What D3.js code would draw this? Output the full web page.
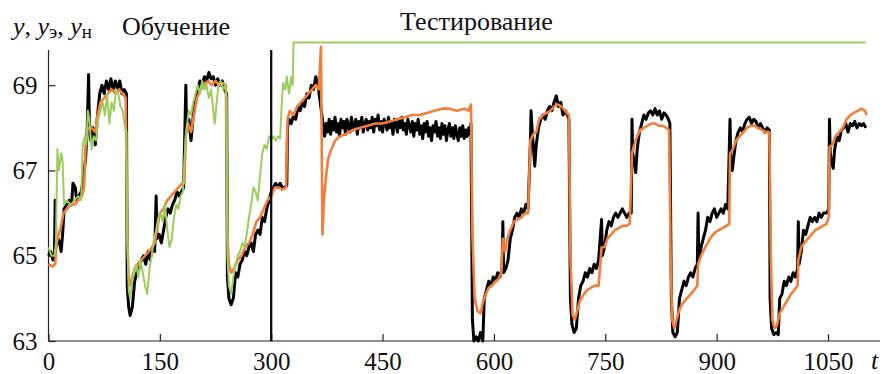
<!DOCTYPE html>
<html>
<head>
<meta charset="utf-8">
<script src="https://cdn.jsdelivr.net/npm/d3@7"></script>
<style>
  body { margin: 0; background: #fff; }
</style>
</head>
<body>
<div id="chart"></div>
<script>
// ---- data ----
const xTicks = [0, 150, 300, 450, 600, 750, 900, 1050];
const yTicks = [63, 65, 67, 69];

// y (measured output, black)
const tBlack = [0,3,6,8,9,10,13,15,17,19,21,24,28,31,33,36,38,41,44,47,50,52,54,55,57,60,63,66,69,72,75,78,81,84,87,90,93,96,99,102,105,
  106,108,110,113,116,119,122,125,128,131,134,137,140,143,145,146,149,152,155,158,161,164,167,170,173,176,179,182,
  185,186,189,192,195,198,201,204,207,210,213,216,219,222,225,228,231,234,237,240,
  241,243,246,249,252,255,258,261,264,267,270,273,276,279,282,285,288,291,294,297,300,303,306,309,312,315,318,321,
  322,324,327,330,333,336,339,342,345,348,351,354,357,360,363,366,369,372,
  374,376,378,380,382,384,386,388,390,392,394,396,398,400,402,404,406,408,410,412,414,416,418,420,422,424,426,428,430,432,
  434,436,438,440,442,444,446,448,450,452,454,456,458,460,462,464,466,468,470,472,474,476,478,480,482,484,486,488,490,492,
  494,496,498,500,502,504,506,508,510,512,514,516,518,520,522,524,526,528,530,532,534,536,538,540,542,544,546,548,550,552,
  554,556,558,560,562,564,566,568,569,
  571,573,576,579,582,585,587,590,593,596,599,602,605,608,611,612,613,616,619,622,625,628,631,634,637,640,643,646,
  649,650,652,655,657,660,663,666,669,672,675,678,681,684,687,690,693,696,699,701,
  703,705,708,711,714,717,720,723,726,729,732,735,738,741,745,746,749,752,755,758,761,764,767,770,773,776,779,782,785,
  786,787,789,791,793,796,799,802,805,808,811,814,817,820,823,826,829,832,835,837,
  839,841,844,847,850,853,856,859,862,865,868,871,874,875,876,879,882,885,888,891,894,897,900,903,906,909,912,915,
  918,919,921,923,926,929,932,935,938,941,944,947,950,953,956,959,962,965,968,971,
  972,974,977,980,983,985,988,991,994,997,1000,1003,1006,1009,1010,1011,1014,1017,1020,1023,1026,1029,1032,1035,1038,1041,1044,1048,1051,
  1052,1053,1055,1057,1059,1062,1065,1068,1071,1074,1077,1080,1083,1086,1089,1092,1095,1098,1101];
const yBlack = [65.0,65.1,64.9,65.0,66.3,65.2,65.4,65.3,65.1,65.5,66.1,66.2,66.3,66.2,66.7,66.6,66.3,66.4,66.5,66.8,67.3,67.9,69.25,68.2,67.7,68.0,67.6,68.3,68.8,69.0,68.8,69.1,68.9,69.15,68.9,69.1,68.9,69.1,68.8,68.9,68.8,
  64.3,63.8,63.6,63.8,64.4,64.6,64.7,64.9,65.0,64.8,65.1,64.9,65.2,65.1,66.4,65.4,65.5,65.3,65.6,65.9,66.1,66.0,66.2,66.3,66.5,66.4,66.5,66.6,
  69.0,68.0,68.2,67.7,68.3,68.6,68.9,69.1,69.0,69.2,69.1,69.3,69.15,69.2,69.0,69.15,69.0,69.1,68.9,68.8,
  64.5,64.0,63.85,64.0,64.6,64.5,64.8,64.9,65.1,65.0,65.2,65.3,65.1,65.5,65.6,65.5,65.9,65.8,66.1,66.3,66.5,66.6,66.7,66.6,66.7,66.6,66.6,66.65,
  68.0,68.2,68.1,68.3,68.2,68.5,68.4,68.6,68.5,68.8,68.7,69.0,68.9,69.2,69.0,68.6,68.2,67.8,
  68.1,67.9,68.2,67.85,68.15,67.95,68.25,67.9,68.1,67.8,68.2,68.0,68.15,67.85,68.2,68.05,67.9,68.25,67.95,68.1,68.2,67.85,68.15,68.0,68.25,67.9,68.1,68.2,67.95,68.15,
  68.0,68.25,67.9,68.2,68.05,68.3,67.95,68.15,67.9,68.2,68.1,67.95,68.25,68.0,68.15,67.85,68.2,68.1,67.9,68.2,68.0,68.25,67.95,68.1,67.85,68.2,68.05,67.9,68.15,67.8,
  68.1,67.95,68.2,67.85,68.05,67.75,68.1,67.9,68.15,67.8,68.0,67.7,68.05,67.9,68.15,67.8,68.0,67.75,68.1,67.85,68.05,67.7,67.95,68.1,67.8,68.0,67.75,68.05,67.85,67.7,
  68.0,67.8,68.05,67.75,67.95,67.8,68.0,67.85,68.1,
  63.5,63.0,63.1,63.0,63.2,63.0,64.0,64.2,64.4,64.3,64.5,64.4,64.6,64.5,64.7,65.8,64.6,64.7,64.9,65.4,65.6,65.9,66.0,65.9,66.1,66.0,66.2,66.1,
  67.6,68.4,67.8,67.1,67.6,68.0,68.2,68.3,68.2,68.4,68.5,68.4,68.6,68.75,68.5,68.6,68.3,68.4,68.3,68.2,
  64.0,63.4,63.2,63.3,64.0,64.3,64.4,64.6,64.5,64.7,64.6,64.8,64.7,64.9,65.85,65.0,65.2,65.6,65.8,65.7,65.9,66.0,65.9,66.0,66.1,66.0,65.9,66.0,66.0,
  68.2,67.4,67.2,66.95,67.5,67.9,68.1,68.3,68.2,68.35,68.4,68.3,68.45,68.3,68.4,68.2,68.35,68.3,68.2,68.1,
  64.0,63.2,63.1,63.2,64.0,64.2,64.4,64.3,64.5,64.6,64.5,64.7,64.8,66.0,64.9,65.2,65.4,65.6,65.9,65.8,66.0,66.1,65.9,66.0,66.1,66.0,66.2,66.1,
  68.2,67.3,67.0,67.3,67.7,67.9,68.0,67.9,68.1,68.2,68.25,68.1,68.2,68.15,68.0,68.1,68.0,67.9,68.0,67.95,
  64.0,63.3,63.15,63.2,63.15,64.0,64.1,64.4,64.3,64.5,64.4,64.6,64.5,64.7,65.8,64.8,65.1,65.6,65.5,65.7,65.9,65.8,65.9,65.8,66.0,65.9,66.0,66.0,66.1,
  68.2,67.4,67.2,67.05,67.5,67.8,67.7,67.95,68.0,68.1,67.9,68.1,68.05,68.15,68.0,68.1,68.05,68.1,68.0];

// y_э (model, orange)
const tOrange = [0,5,9,11,14,17,20,25,30,35,40,45,48,50,53,58,63,66,70,75,80,85,90,95,100,104,
  106,108,110,113,116,120,125,130,135,140,143,146,150,155,160,165,170,175,180,183,
  185,188,192,196,200,205,210,215,220,225,230,235,239,
  241,243,246,250,255,260,265,270,275,280,285,290,295,300,305,310,315,320,
  322,325,330,335,340,345,350,355,360,364,367,369,371,374,377,381,386,392,400,410,420,430,440,450,460,470,480,490,500,
  510,520,530,540,550,560,566,569,
  571,574,578,582,585,589,593,597,602,606,610,612,615,618,622,627,632,637,642,646,
  649,653,657,661,666,671,676,681,686,691,696,701,
  703,706,709,712,716,721,726,731,736,741,745,749,753,758,763,768,773,778,783,
  786,789,793,797,802,807,812,817,822,827,832,836,
  838,840,843,846,850,855,860,865,870,874,875,879,883,888,893,898,903,908,913,917,
  918,922,926,931,936,941,946,951,956,961,966,971,
  973,975,978,981,985,990,995,1000,1005,1009,1010,1014,1018,1023,1028,1033,1038,1043,1048,1051,
  1052,1056,1060,1065,1070,1075,1080,1085,1090,1095,1100,1102];
const yOrange = [64.8,64.75,64.8,65.3,65.5,65.7,66.0,66.1,66.2,66.2,66.3,66.4,66.6,67.6,68.0,68.0,67.9,68.3,68.6,68.7,68.8,68.9,68.8,68.9,68.8,68.7,
  65.5,64.5,64.3,64.5,64.7,64.8,64.9,65.0,65.1,65.2,65.3,65.6,66.0,66.1,66.3,66.4,66.5,66.6,66.7,66.7,
  67.8,68.1,67.9,68.3,68.7,68.9,69.0,69.1,69.0,69.1,69.0,69.05,69.0,
  65.5,64.8,64.6,64.7,64.9,65.0,65.2,65.3,65.5,65.8,65.9,66.1,66.3,66.4,66.6,66.6,66.55,66.6,
  68.2,68.4,68.3,68.5,68.6,68.7,68.8,68.9,69.0,68.9,69.9,65.5,66.3,66.9,67.3,67.5,67.7,67.8,67.85,67.95,68.0,68.05,68.1,68.1,68.15,68.2,68.25,68.3,68.3,
  68.35,68.4,68.45,68.45,68.4,68.45,68.4,68.55,
  65.5,64.0,63.7,63.65,63.9,64.1,64.25,64.3,64.4,64.45,64.6,65.4,65.1,65.4,65.6,65.8,65.85,65.9,66.0,66.0,
  67.7,67.85,67.9,68.2,68.3,68.35,68.4,68.5,68.55,68.5,68.4,68.3,
  65.0,63.6,63.5,63.7,63.95,64.1,64.2,64.25,64.3,64.3,65.2,65.2,65.4,65.5,65.6,65.65,65.7,65.7,65.75,
  67.4,67.6,67.8,67.95,68.0,68.05,68.1,68.1,68.05,68.05,68.0,67.95,
  65.0,63.5,63.3,63.5,63.75,63.9,64.0,64.1,64.2,64.3,64.8,65.0,65.15,65.3,65.45,65.55,65.6,65.65,65.7,65.75,
  67.4,67.5,67.7,67.8,67.9,68.0,68.05,68.05,68.0,67.95,67.9,67.9,
  65.0,63.5,63.3,63.35,63.65,63.8,63.95,64.1,64.2,64.3,64.9,65.2,65.3,65.4,65.5,65.6,65.65,65.7,65.75,65.9,
  67.55,67.6,67.8,67.9,68.0,68.2,68.3,68.35,68.4,68.45,68.4,68.3];

// y_н (green)
const tGreen = [0,4,8,10,12,14,17,19,21,25,30,35,40,44,46,49,51,53,55,58,61,64,67,70,73,76,79,82,85,88,91,94,97,100,103,105,
  106,108,110,112,115,118,121,124,127,130,133,136,139,142,145,148,151,154,157,160,163,166,169,172,175,178,181,
  184,186,189,192,195,198,201,204,207,210,213,216,219,222,224,226,229,232,235,238,240,
  241,243,246,249,252,255,258,261,264,267,270,273,276,279,282,285,288,291,294,297,300,303,306,309,312,314,316,319,321,324,327,329,
  330,1101];
const yGreen = [65.2,65.0,65.0,65.3,67.5,67.0,67.4,67.2,66.2,66.3,66.2,66.3,66.4,66.3,67.6,67.8,67.6,68.4,68.2,67.5,67.8,67.7,68.2,68.4,68.6,68.3,68.8,68.1,68.6,68.4,68.9,68.8,68.5,68.4,68.0,67.9,
  65.5,64.2,64.0,64.3,64.6,64.8,64.5,64.9,64.6,64.3,64.1,64.7,65.0,65.4,65.6,65.9,66.0,65.8,66.2,65.6,65.2,65.4,65.9,66.2,66.1,66.4,66.5,
  67.5,68.0,68.4,68.3,68.6,68.8,69.0,68.8,69.1,68.9,69.0,68.7,68.9,68.4,68.1,68.5,69.0,69.1,68.9,69.0,68.7,
  65.0,64.3,64.1,64.5,64.8,65.0,65.1,65.3,65.2,65.5,65.9,66.2,66.6,66.5,66.3,66.9,67.4,67.6,67.5,67.8,67.7,67.8,67.7,67.8,67.75,68.5,69.05,68.9,69.2,68.8,69.2,69.0,
  70.0,70.0];

const boundary = 300; // training / testing split
const FONT = '"Liberation Serif"';

// ---- layout ----
const width = 885, height = 374;
const x0 = 48.5, y0 = 341;

const svg = d3.select("#chart").append("svg")
  .attr("width", width)
  .attr("height", height);

const x = d3.scaleLinear().domain([0, 1050]).range([x0, 828]);
const y = d3.scaleLinear().domain([63, 69]).range([y0, 85.2]);

const line = d3.line().x(d => x(d[0])).y(d => y(d[1]));
const zip = (ts, vs) => ts.map((t, i) => [t, vs[i]]);

// axes
const xAxis = d3.axisBottom(x).tickValues(xTicks).tickSize(-7).tickPadding(14).tickFormat(d3.format("d"));
const yAxis = d3.axisLeft(y).tickValues(yTicks).tickSize(-7).tickPadding(11).tickFormat(d3.format("d"));

const gx = svg.append("g").attr("transform", `translate(0,${y0})`).call(xAxis);
gx.select(".domain").attr("d", `M${x0},0H880`);
const gy = svg.append("g").attr("transform", `translate(${x0},0)`).call(yAxis);
gy.select(".domain").attr("d", `M0,50V${y0}`);

svg.selectAll(".tick text").attr("font-size", 25).style("font-family", FONT).attr("fill", "#111");
gx.selectAll(".tick text").attr("dy", null).attr("y", 29);
svg.selectAll(".domain, .tick line").attr("stroke", "#222").attr("stroke-width", 1.2);

// series
svg.append("path").datum(zip(tBlack, yBlack))
  .attr("d", line).attr("fill", "none")
  .attr("stroke", "#000").attr("stroke-width", 3).attr("stroke-linejoin", "round");
svg.append("path").datum(zip(tOrange, yOrange))
  .attr("d", line).attr("fill", "none")
  .attr("stroke", "#f47d3a").attr("stroke-width", 2.6).attr("stroke-linejoin", "round");
svg.append("path").datum(zip(tGreen, yGreen))
  .attr("d", line).attr("fill", "none")
  .attr("stroke", "#9ccd5c").attr("stroke-width", 2).attr("stroke-linejoin", "round");

// training / testing split
svg.append("line")
  .attr("x1", x(boundary)).attr("x2", x(boundary))
  .attr("y1", 50).attr("y2", y0)
  .attr("stroke", "#000").attr("stroke-width", 2.2);

// labels
const lab = svg.append("text").attr("x", 13).attr("y", 35).attr("font-size", 26).style("font-family", FONT).attr("fill", "#111");
lab.append("tspan").attr("font-style", "italic").text("y");
lab.append("tspan").text(", ");
lab.append("tspan").attr("font-style", "italic").text("y");
lab.append("tspan").attr("font-size", 19).attr("dy", 3).text("э");
lab.append("tspan").attr("dy", -3).text(", ");
lab.append("tspan").attr("font-style", "italic").text("y");
lab.append("tspan").attr("font-size", 19).attr("dy", 3).text("н");

svg.append("text").attr("x", 122).attr("y", 35).attr("font-size", 26).style("font-family", FONT).attr("fill", "#111").text("Обучение");
svg.append("text").attr("x", 400).attr("y", 30).attr("font-size", 26).style("font-family", FONT).attr("fill", "#111").text("Тестирование");
svg.append("text").attr("x", 871).attr("y", 369).attr("font-size", 26).style("font-family", FONT).attr("fill", "#111").attr("font-style", "italic").text("t");
</script>
</body>
</html>
